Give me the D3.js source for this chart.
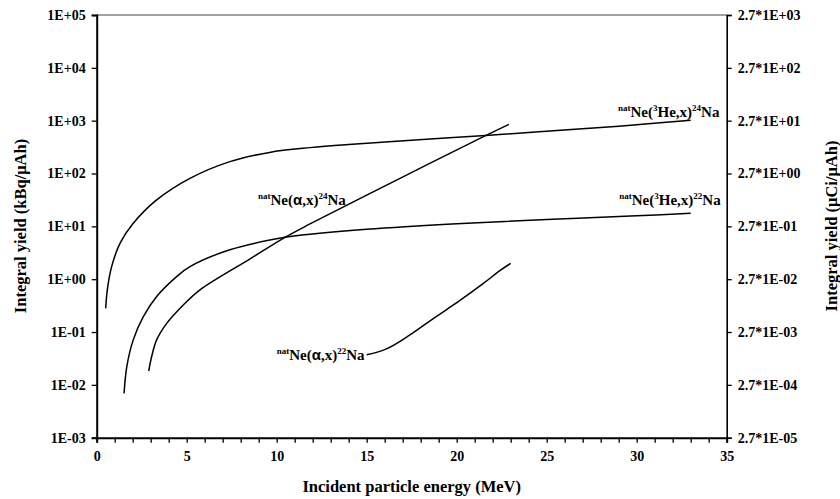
<!DOCTYPE html>
<html>
<head>
<meta charset="utf-8">
<script src="https://cdn.jsdelivr.net/npm/d3@7"></script>
<style>
  body { margin: 0; background: #fff; }
  svg { display: block; }
  text { font-family: "Liberation Serif", "Times New Roman", serif; font-weight: bold; fill: #000; }
</style>
</head>
<body>
<div class="canvas"></div>
<script>
var width = 840,
   height = 499;

// plot box
var margin = {left: 96.7, right: 840 - 726.7, top: 15, bottom: 499 - 437.7};

// natNe(3He,x)24Na
var he24Energy = [0.5, 0.59, 0.83, 1.3, 2.03, 3.33, 5.18, 7.4, 9.6, 11.85, 14, 16.85, 21.6, 25, 28, 30, 33];
var he24Yield  = [0.28, 0.63, 1.73, 4.8, 11.4, 31.6, 81, 168, 251, 309, 355, 412, 525, 631, 741, 841, 1020];

// natNe(3He,x)22Na
var he22Energy = [1.52, 1.67, 2.03, 2.59, 3.33, 4.44, 5.18, 7.4, 10.46, 11.85, 15, 20, 25, 30, 33];
var he22Yield  = [0.0069, 0.022, 0.071, 0.195, 0.47, 1.12, 1.73, 3.6, 6.2, 7.1, 8.8, 11.2, 13.5, 15.8, 17.7];

// natNe(a,x)24Na
var al24Energy = [2.89, 3.05, 3.33, 3.89, 4.81, 5.74, 8.5, 10.46, 11.85, 16.85, 21.6, 22.9];
var al24Yield  = [0.0183, 0.034, 0.071, 0.146, 0.325, 0.63, 2.4, 6.2, 11.1, 81, 520, 851];

// natNe(a,x)22Na
var al22Energy = [15.0, 16.1, 17.4, 18.7, 20.2, 21.5, 22.4, 23.0];
var al22Yield  = [0.037, 0.048, 0.088, 0.18, 0.40, 0.84, 1.45, 2.0];

var xMajorTicks = [0, 5, 10, 15, 20, 25, 30, 35];
var xMinorTicks = d3.range(0, 36, 1);
var yTicks = [1e-3, 1e-2, 1e-1, 1e0, 1e1, 1e2, 1e3, 1e4, 1e5];
var yRightTicks = yTicks.map(function(v) { return v * 0.027; });

// curve labels: text parts (0 normal, 1 superscript, 2 symbol) and anchor (MeV, kBq/uAh)
var labels = [
   {parts: [['nat', 1], ['Ne(', 0], ['3', 1], ['He,x)', 0], ['24', 1], ['Na', 0]], e: 28.96, v: 1160},
   {parts: [['nat', 1], ['Ne(', 0], ['3', 1], ['He,x)', 0], ['22', 1], ['Na', 0]], e: 29.03, v: 25.3},
   {parts: [['nat', 1], ['Ne(', 0], ['α', 2], [',x)', 0], ['24', 1], ['Na', 0]], e: 8.96, v: 25.3},
   {parts: [['nat', 1], ['Ne(', 0], ['α', 2], [',x)', 0], ['22', 1], ['Na', 0]], e: 10.0, v: 0.0296}
];

var serif = '"Liberation Serif", "Times New Roman", serif';

var x = d3.scaleLinear()
   .domain([0, 35])
   .range([margin.left, width - margin.right]);

var y = d3.scaleLog()
   .domain([1e-3, 1e5])
   .range([height - margin.bottom, margin.top]);

var yRight = d3.scaleLog()
   .domain([2.7e-5, 2.7e3])
   .range([height - margin.bottom, margin.top]);

function fmtE(v) {
   var p = Math.round(Math.log10(v));
   var s = p < 0 ? '-' : '+';
   var a = Math.abs(p);
   return '1E' + s + (a < 10 ? '0' : '') + a;
}

// serif bold tick labels instead of d3's default sans-serif
function axisStyle(g, w) {
   g.attr('font-family', serif).attr('font-size', 14).attr('font-weight', 'bold');
   g.select('.domain').attr('stroke-width', w);
   g.selectAll('.tick line').attr('stroke-width', 1.3);
   g.selectAll('text')
      .style('font-family', serif)
      .style('font-size', '14px')
      .style('font-weight', 'bold');
}

var svg = d3.select('.canvas')
   .append('svg')
   .attr('width', width)
   .attr('height', height);

// top border
svg.append('line')
   .attr('x1', x(0)).attr('x2', x(35))
   .attr('y1', y(1e5)).attr('y2', y(1e5))
   .attr('stroke', '#444')
   .attr('stroke-width', 1.2);

// x axis - ticks every MeV
svg.append('g')
   .attr('transform', 'translate(0,' + y(1e-3) + ')')
   .call(d3.axisBottom(x).tickValues(xMinorTicks).tickSize(5).tickFormat(''))
   .call(axisStyle, 2);

// x axis labels
var xAxis = svg.append('g')
   .attr('transform', 'translate(0,' + y(1e-3) + ')')
   .call(d3.axisBottom(x).tickValues(xMajorTicks).tickSize(0).tickPadding(13).tickFormat(d3.format('d')))
   .call(axisStyle, 0);
xAxis.select('.domain').remove();

// left axis
svg.append('g')
   .attr('transform', 'translate(' + x(0) + ',0)')
   .call(d3.axisLeft(y).tickValues(yTicks).tickSize(5).tickPadding(6).tickFormat(fmtE))
   .call(axisStyle, 2);

// right axis
svg.append('g')
   .attr('transform', 'translate(' + x(35) + ',0)')
   .call(d3.axisRight(yRight).tickValues(yRightTicks).tickSize(5).tickPadding(6)
      .tickFormat(function(v) { return '2.7*' + fmtE(v / 2.7); }))
   .call(axisStyle, 1.6);

// curves
var line = d3.line()
   .x(function(d) { return x(d[0]); })
   .y(function(d) { return y(d[1]); })
   .curve(d3.curveCatmullRom.alpha(0.5));

var series = [
   d3.zip(he24Energy, he24Yield),
   d3.zip(he22Energy, he22Yield),
   d3.zip(al24Energy, al24Yield),
   d3.zip(al22Energy, al22Yield)
];

svg.append('g')
   .selectAll('path')
   .data(series)
   .enter().append('path')
      .attr('d', line)
      .attr('fill', 'none')
      .attr('stroke', '#000')
      .attr('stroke-width', 1.5);

// curve labels
labels.forEach(function(l) {
   var t = svg.append('text')
      .attr('x', x(l.e))
      .attr('y', y(l.v));
   var shift = 0;
   l.parts.forEach(function(p) {
      var ts = t.append('tspan').text(p[0]);
      if (p[1] === 1) {
         ts.style('font-size', '9px').attr('dy', -6 - shift);
         shift = -6;
      } else {
         ts.style('font-size', '15px').attr('dy', -shift);
         shift = 0;
         if (p[1] === 2) ts.style('font-family', '"Liberation Sans", Arial, sans-serif');
      }
   });
});

// axis titles
svg.append('text')
   .attr('x', (x(0) + x(35)) / 2)
   .attr('y', 491.5)
   .attr('text-anchor', 'middle')
   .style('font-size', '16.5px')
   .text('Incident particle energy (MeV)');

svg.append('text')
   .attr('transform', 'translate(26,226) rotate(-90)')
   .attr('text-anchor', 'middle')
   .style('font-size', '16.5px')
   .text('Integral yield (kBq/μAh)');

svg.append('text')
   .attr('transform', 'translate(837,226) rotate(-90)')
   .attr('text-anchor', 'middle')
   .style('font-size', '16.5px')
   .text('Integral yield (μCi/μAh)');
</script>
</body>
</html>
